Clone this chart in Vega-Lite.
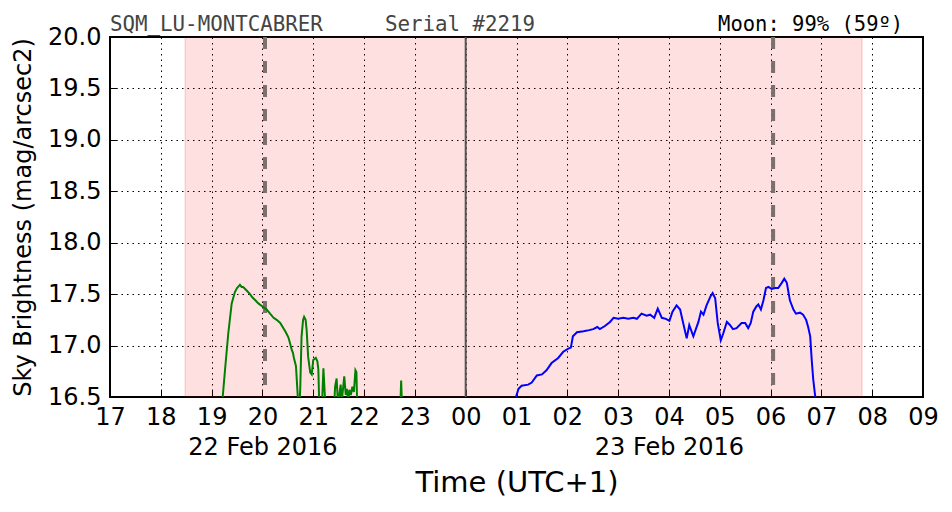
{
  "$schema": "https://vega.github.io/schema/vega-lite/v6.json",
  "width": 813,
  "height": 360,
  "autosize": {"type": "none"},
  "padding": {"left": 110, "top": 37, "right": 29, "bottom": 115},
  "background": "white",
  "config": {
    "view": {"stroke": "black", "strokeWidth": 2},
    "font": "DejaVu Sans",
    "axis": {
      "domain": false,
      "grid": true,
      "gridColor": "black",
      "gridDash": [1.5, 4],
      "gridWidth": 1,
      "gridOpacity": 1,
      "tickColor": "black",
      "tickSize": -7,
      "tickWidth": 1,
      "labelColor": "black",
      "labelFontSize": 24,
      "labelFont": "DejaVu Sans",
      "titleFont": "DejaVu Sans",
      "titleFontWeight": "normal",
      "titleColor": "black"
    }
  },
  "datasets": {
    "sqm": [
      {"t": 19.10, "v": 16.0, "s": "g"},
      {"t": 19.218, "v": 16.5, "s": "g"},
      {"t": 19.263, "v": 16.76, "s": "g"},
      {"t": 19.328, "v": 17.12, "s": "g"},
      {"t": 19.395, "v": 17.41, "s": "g"},
      {"t": 19.458, "v": 17.52, "s": "g"},
      {"t": 19.50, "v": 17.56, "s": "g"},
      {"t": 19.557, "v": 17.59, "s": "g"},
      {"t": 19.59, "v": 17.57, "s": "g"},
      {"t": 19.62, "v": 17.57, "s": "g"},
      {"t": 19.68, "v": 17.54, "s": "g"},
      {"t": 19.755, "v": 17.50, "s": "g"},
      {"t": 19.80, "v": 17.47, "s": "g"},
      {"t": 19.86, "v": 17.44, "s": "g"},
      {"t": 19.92, "v": 17.41, "s": "g"},
      {"t": 20.0, "v": 17.38, "s": "g"},
      {"t": 20.084, "v": 17.35, "s": "g"},
      {"t": 20.15, "v": 17.31, "s": "g"},
      {"t": 20.22, "v": 17.27, "s": "g"},
      {"t": 20.28, "v": 17.25, "s": "g"},
      {"t": 20.35, "v": 17.22, "s": "g"},
      {"t": 20.41, "v": 17.17, "s": "g"},
      {"t": 20.46, "v": 17.13, "s": "g"},
      {"t": 20.51, "v": 17.08, "s": "g"},
      {"t": 20.55, "v": 17.01, "s": "g"},
      {"t": 20.576, "v": 16.96, "s": "g"},
      {"t": 20.60, "v": 16.93, "s": "g"},
      {"t": 20.62, "v": 16.88, "s": "g"},
      {"t": 20.66, "v": 16.80, "s": "g"},
      {"t": 20.69, "v": 16.55, "s": "g"},
      {"t": 20.72, "v": 16.3, "s": "g"},
      {"t": 20.745, "v": 16.6, "s": "g"},
      {"t": 20.77, "v": 17.09, "s": "g"},
      {"t": 20.80, "v": 17.25, "s": "g"},
      {"t": 20.82, "v": 17.28, "s": "g"},
      {"t": 20.85, "v": 17.25, "s": "g"},
      {"t": 20.87, "v": 17.15, "s": "g"},
      {"t": 20.90, "v": 16.89, "s": "g"},
      {"t": 20.94, "v": 16.74, "s": "g"},
      {"t": 20.97, "v": 16.72, "s": "g"},
      {"t": 21.0, "v": 16.86, "s": "g"},
      {"t": 21.05, "v": 16.88, "s": "g"},
      {"t": 21.08, "v": 16.85, "s": "g"},
      {"t": 21.10, "v": 16.77, "s": "g"},
      {"t": 21.12, "v": 16.4, "s": "g"},
      {"t": 21.17, "v": 16.4, "s": "g"},
      {"t": 21.20, "v": 16.78, "s": "g"},
      {"t": 21.23, "v": 16.5, "s": "g"},
      {"t": 21.25, "v": 16.3, "s": "g"},
      {"t": 21.40, "v": 16.3, "s": "g"},
      {"t": 21.43, "v": 16.60, "s": "g"},
      {"t": 21.46, "v": 16.68, "s": "g"},
      {"t": 21.49, "v": 16.4, "s": "g"},
      {"t": 21.52, "v": 16.55, "s": "g"},
      {"t": 21.54, "v": 16.62, "s": "g"},
      {"t": 21.56, "v": 16.45, "s": "g"},
      {"t": 21.58, "v": 16.55, "s": "g"},
      {"t": 21.61, "v": 16.70, "s": "g"},
      {"t": 21.64, "v": 16.52, "s": "g"},
      {"t": 21.66, "v": 16.58, "s": "g"},
      {"t": 21.69, "v": 16.45, "s": "g"},
      {"t": 21.71, "v": 16.57, "s": "g"},
      {"t": 21.74, "v": 16.52, "s": "g"},
      {"t": 21.77, "v": 16.60, "s": "g"},
      {"t": 21.80, "v": 16.55, "s": "g"},
      {"t": 21.83, "v": 16.76, "s": "g"},
      {"t": 21.85, "v": 16.74, "s": "g"},
      {"t": 21.87, "v": 16.3, "s": "g"},
      {"t": 22.70, "v": 16.2, "s": "g"},
      {"t": 22.73, "v": 16.66, "s": "g"},
      {"t": 22.76, "v": 16.2, "s": "g"},
      {"t": 24.90, "v": 16.2, "s": "b"},
      {"t": 24.99, "v": 16.5, "s": "b"},
      {"t": 25.04, "v": 16.58, "s": "b"},
      {"t": 25.10, "v": 16.61, "s": "b"},
      {"t": 25.23, "v": 16.62, "s": "b"},
      {"t": 25.30, "v": 16.64, "s": "b"},
      {"t": 25.40, "v": 16.71, "s": "b"},
      {"t": 25.50, "v": 16.72, "s": "b"},
      {"t": 25.59, "v": 16.76, "s": "b"},
      {"t": 25.69, "v": 16.83, "s": "b"},
      {"t": 25.82, "v": 16.88, "s": "b"},
      {"t": 25.92, "v": 16.94, "s": "b"},
      {"t": 26.02, "v": 16.97, "s": "b"},
      {"t": 26.07, "v": 16.98, "s": "b"},
      {"t": 26.11, "v": 17.09, "s": "b"},
      {"t": 26.19, "v": 17.13, "s": "b"},
      {"t": 26.32, "v": 17.14, "s": "b"},
      {"t": 26.43, "v": 17.15, "s": "b"},
      {"t": 26.51, "v": 17.16, "s": "b"},
      {"t": 26.59, "v": 17.18, "s": "b"},
      {"t": 26.64, "v": 17.16, "s": "b"},
      {"t": 26.74, "v": 17.19, "s": "b"},
      {"t": 26.84, "v": 17.23, "s": "b"},
      {"t": 26.91, "v": 17.27, "s": "b"},
      {"t": 27.0, "v": 17.26, "s": "b"},
      {"t": 27.10, "v": 17.27, "s": "b"},
      {"t": 27.20, "v": 17.26, "s": "b"},
      {"t": 27.30, "v": 17.27, "s": "b"},
      {"t": 27.37, "v": 17.26, "s": "b"},
      {"t": 27.46, "v": 17.31, "s": "b"},
      {"t": 27.56, "v": 17.29, "s": "b"},
      {"t": 27.63, "v": 17.30, "s": "b"},
      {"t": 27.71, "v": 17.27, "s": "b"},
      {"t": 27.78, "v": 17.36, "s": "b"},
      {"t": 27.86, "v": 17.27, "s": "b"},
      {"t": 27.94, "v": 17.26, "s": "b"},
      {"t": 28.01, "v": 17.24, "s": "b"},
      {"t": 28.07, "v": 17.33, "s": "b"},
      {"t": 28.15, "v": 17.39, "s": "b"},
      {"t": 28.22, "v": 17.35, "s": "b"},
      {"t": 28.28, "v": 17.22, "s": "b"},
      {"t": 28.35, "v": 17.07, "s": "b"},
      {"t": 28.40, "v": 17.20, "s": "b"},
      {"t": 28.48, "v": 17.09, "s": "b"},
      {"t": 28.58, "v": 17.23, "s": "b"},
      {"t": 28.63, "v": 17.33, "s": "b"},
      {"t": 28.68, "v": 17.30, "s": "b"},
      {"t": 28.74, "v": 17.39, "s": "b"},
      {"t": 28.82, "v": 17.48, "s": "b"},
      {"t": 28.86, "v": 17.51, "s": "b"},
      {"t": 28.91, "v": 17.46, "s": "b"},
      {"t": 28.96, "v": 17.22, "s": "b"},
      {"t": 29.02, "v": 17.05, "s": "b"},
      {"t": 29.07, "v": 17.12, "s": "b"},
      {"t": 29.14, "v": 17.23, "s": "b"},
      {"t": 29.20, "v": 17.20, "s": "b"},
      {"t": 29.26, "v": 17.16, "s": "b"},
      {"t": 29.33, "v": 17.17, "s": "b"},
      {"t": 29.43, "v": 17.22, "s": "b"},
      {"t": 29.50, "v": 17.22, "s": "b"},
      {"t": 29.56, "v": 17.17, "s": "b"},
      {"t": 29.61, "v": 17.22, "s": "b"},
      {"t": 29.66, "v": 17.33, "s": "b"},
      {"t": 29.72, "v": 17.38, "s": "b"},
      {"t": 29.76, "v": 17.40, "s": "b"},
      {"t": 29.81, "v": 17.35, "s": "b"},
      {"t": 29.86, "v": 17.44, "s": "b"},
      {"t": 29.91, "v": 17.56, "s": "b"},
      {"t": 29.96, "v": 17.57, "s": "b"},
      {"t": 30.02, "v": 17.55, "s": "b"},
      {"t": 30.09, "v": 17.56, "s": "b"},
      {"t": 30.15, "v": 17.56, "s": "b"},
      {"t": 30.22, "v": 17.61, "s": "b"},
      {"t": 30.27, "v": 17.65, "s": "b"},
      {"t": 30.32, "v": 17.61, "s": "b"},
      {"t": 30.38, "v": 17.44, "s": "b"},
      {"t": 30.45, "v": 17.35, "s": "b"},
      {"t": 30.50, "v": 17.31, "s": "b"},
      {"t": 30.58, "v": 17.32, "s": "b"},
      {"t": 30.64, "v": 17.30, "s": "b"},
      {"t": 30.70, "v": 17.25, "s": "b"},
      {"t": 30.74, "v": 17.18, "s": "b"},
      {"t": 30.78, "v": 17.09, "s": "b"},
      {"t": 30.81, "v": 16.86, "s": "b"},
      {"t": 30.84, "v": 16.67, "s": "b"},
      {"t": 30.88, "v": 16.5, "s": "b"},
      {"t": 30.92, "v": 16.2, "s": "b"}
    ]
  },
  "layer": [
    {
      "data": {"values": [{}]},
      "mark": {"type": "rect", "fill": "#ff0000", "fillOpacity": 0.12, "strokeWidth": 0},
      "encoding": {
        "x": {"datum": 18.48, "type": "quantitative"},
        "x2": {"datum": 31.80}
      }
    },
    {
      "data": {"values": [{}]},
      "mark": {"type": "rule", "color": "#ff0000", "opacity": 0.15, "strokeWidth": 1.5},
      "encoding": {"x": {"datum": 18.48, "type": "quantitative"}}
    },
    {
      "data": {"values": [{}]},
      "mark": {"type": "rule", "color": "#ff0000", "opacity": 0.15, "strokeWidth": 1.5},
      "encoding": {"x": {"datum": 31.80, "type": "quantitative"}}
    },
    {
      "data": {"values": [{}]},
      "mark": {"type": "rule", "color": "#555555", "strokeWidth": 2},
      "encoding": {"x": {"datum": 24, "type": "quantitative"}}
    },
    {
      "data": {"values": [{}]},
      "mark": {"type": "rule", "color": "#7a7070", "strokeWidth": 4, "strokeDash": [12, 12]},
      "encoding": {"x": {"datum": 20.05, "type": "quantitative"}}
    },
    {
      "data": {"values": [{}]},
      "mark": {"type": "rule", "color": "#7a7070", "strokeWidth": 4, "strokeDash": [12, 12]},
      "encoding": {"x": {"datum": 30.05, "type": "quantitative"}}
    },
    {
      "data": {"name": "sqm"},
      "mark": {"type": "line", "strokeWidth": 2, "clip": true},
      "encoding": {
        "x": {
          "field": "t",
          "type": "quantitative",
          "scale": {"domain": [17, 33], "nice": false, "zero": false},
          "axis": {
            "values": [17, 18, 19, 20, 21, 22, 23, 24, 25, 26, 27, 28, 29, 30, 31, 32, 33],
            "labelExpr": "datum.value == 20 ? ['20', '22 Feb 2016'] : datum.value == 28 ? ['04', '23 Feb 2016'] : ((datum.value % 24) < 10 ? '0' : '') + (datum.value % 24)",
            "labelLineHeight": 30,
            "labelBaseline": "top",
            "labelOverlap": false,
            "labelFlush": false,
            "labelPadding": 15,
            "title": "Time (UTC+1)",
            "titleFontSize": 29,
            "titlePadding": 9
          }
        },
        "y": {
          "field": "v",
          "type": "quantitative",
          "scale": {"domain": [16.5, 20], "nice": false, "zero": false},
          "axis": {
            "values": [16.5, 17, 17.5, 18, 18.5, 19, 19.5, 20],
            "format": ".1f",
            "labelPadding": 16,
            "labelFlush": false,
            "labelOverlap": false,
            "title": "Sky Brightness (mag/arcsec2)",
            "titleFontSize": 24,
            "titlePadding": 12
          }
        },
        "color": {
          "field": "s",
          "type": "nominal",
          "scale": {"domain": ["g", "b"], "range": ["#008000", "#0000ff"]},
          "legend": null
        }
      }
    },
    {
      "data": {"values": [{}]},
      "mark": {"type": "text", "font": "DejaVu Sans Mono", "fontSize": 20.8, "color": "#444444", "align": "left", "baseline": "alphabetic", "dy": -6},
      "encoding": {
        "x": {"datum": 17, "type": "quantitative"},
        "y": {"datum": 20, "type": "quantitative"},
        "text": {"value": "SQM_LU-MONTCABRER"}
      }
    },
    {
      "data": {"values": [{}]},
      "mark": {"type": "text", "font": "DejaVu Sans Mono", "fontSize": 20.8, "color": "#444444", "align": "left", "baseline": "alphabetic", "dy": -6},
      "encoding": {
        "x": {"datum": 22.41, "type": "quantitative"},
        "y": {"datum": 20, "type": "quantitative"},
        "text": {"value": "Serial #2219"}
      }
    },
    {
      "data": {"values": [{}]},
      "mark": {"type": "text", "font": "DejaVu Sans Mono", "fontSize": 20.5, "color": "black", "align": "right", "baseline": "alphabetic", "dy": -6},
      "encoding": {
        "x": {"datum": 32.61, "type": "quantitative"},
        "y": {"datum": 20, "type": "quantitative"},
        "text": {"value": "Moon: 99% (59º)"}
      }
    }
  ]
}
